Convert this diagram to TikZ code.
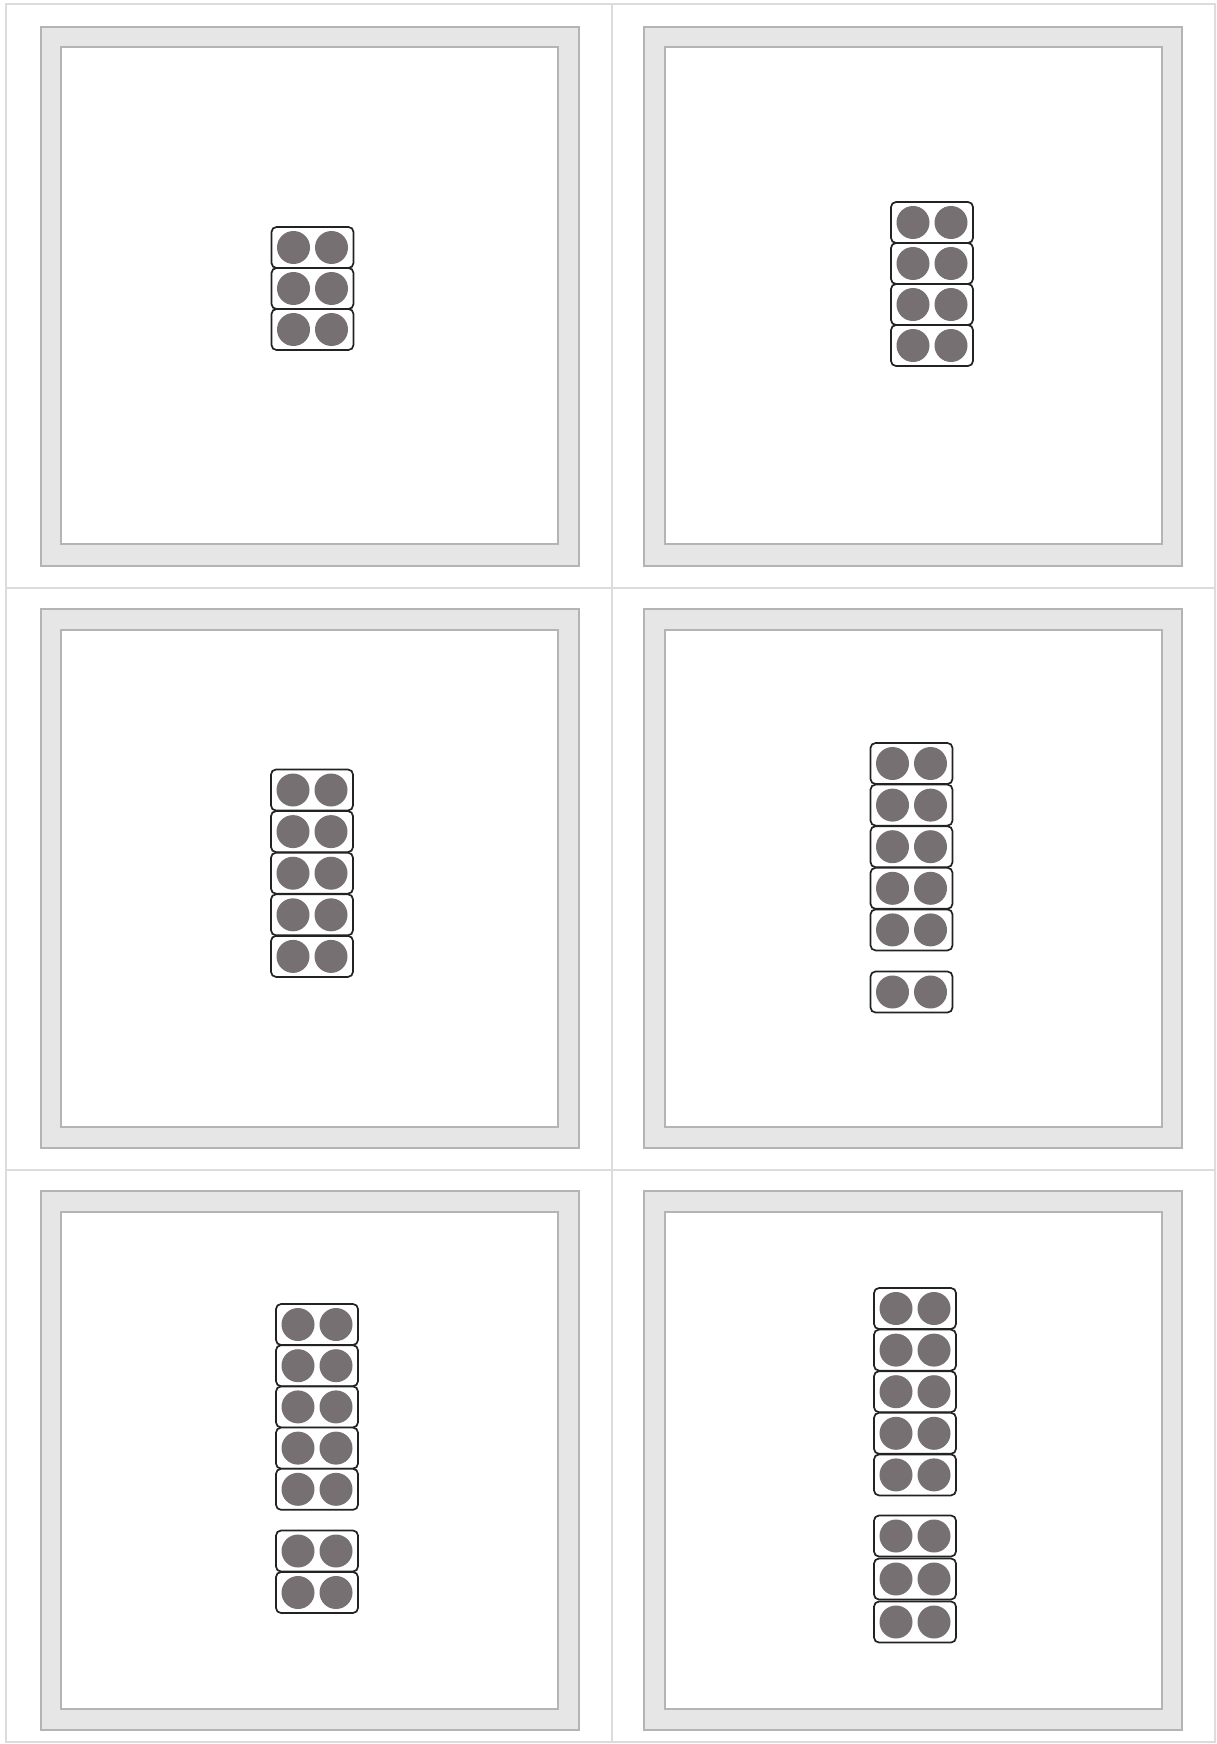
\documentclass[tikz,border=0pt]{standalone}
\definecolor{gridc}{HTML}{DCDCDC}
\definecolor{framefill}{HTML}{E6E6E6}
\definecolor{framedraw}{HTML}{B4B4B4}
\definecolor{dotc}{HTML}{767072}
\definecolor{domc}{HTML}{222222}
\tikzset{
  gridline/.style={draw=gridc, line width=1.2},
  outerframe/.style={fill=framefill, draw=framedraw, line width=1.5},
  innerframe/.style={fill=white, draw=framedraw, line width=1.5},
  domino/.pic={
    \draw[domc, fill=white, line width=1.7, rounded corners=5] (-41,-20.5) rectangle (41,20.5);
    \fill[dotc] (-19,0) circle (16.5);
    \fill[dotc] (19,0) circle (16.5);
  }
}
\begin{document}
\begin{tikzpicture}[x=1pt,y=-1pt]
\useasboundingbox (0,0) rectangle (1217,1744);
% grid
\draw[gridline] (6,4) rectangle (1215,1742);
\draw[gridline] (612,4) -- (612,1742);
\draw[gridline] (6,588) -- (1215,588);
\draw[gridline] (6,1170) -- (1215,1170);
% frames
\foreach \fx/\ix in {41/61, 644/665}{
  \foreach \fy/\iy in {27/47, 609/630, 1191/1212}{
    \draw[outerframe] (\fx,\fy) rectangle ++(538,539);
    \draw[innerframe] (\ix,\iy) rectangle ++(497,497);
  }
}
% cell 1: 3 dominoes
\foreach \i in {0,1,2} \pic at (312.5, 247.5+41*\i) {domino};
% cell 2: 4 dominoes
\foreach \i in {0,1,2,3} \pic at (932, 222.5+41*\i) {domino};
% cell 3: 5 dominoes
\foreach \i in {0,...,4} \pic at (312, 790+41.6*\i) {domino};
% cell 4: 5 + 1
\foreach \i in {0,...,4} \pic at (911.5, 763.5+41.6*\i) {domino};
\pic at (911.5, 992) {domino};
% cell 5: 5 + 2
\foreach \i in {0,...,4} \pic at (317, 1324.5+41.2*\i) {domino};
\foreach \i in {0,1} \pic at (317, 1551+41.5*\i) {domino};
% cell 6: 5 + 3
\foreach \i in {0,...,4} \pic at (915, 1308.5+41.6*\i) {domino};
\foreach \i in {0,1,2} \pic at (915, 1536+43*\i) {domino};
\end{tikzpicture}
\end{document}
